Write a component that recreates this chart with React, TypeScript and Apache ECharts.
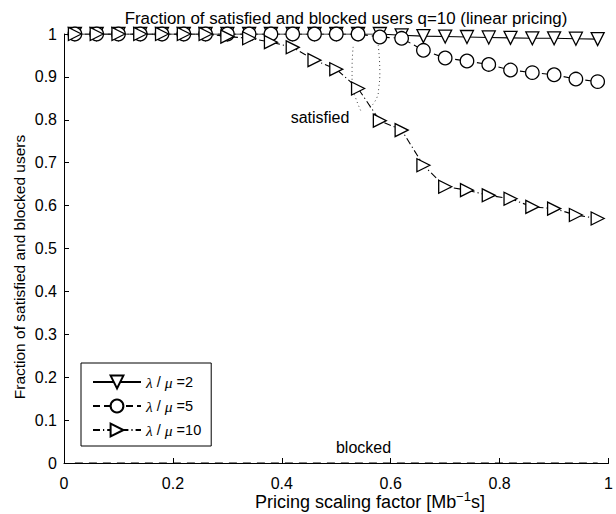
import React, { useEffect, useRef } from "react";
import * as echarts from "echarts";

const xValues = [0.02, 0.06, 0.1, 0.14, 0.18, 0.22, 0.26, 0.3, 0.34, 0.38, 0.42, 0.46, 0.5, 0.54, 0.58, 0.62, 0.66, 0.7, 0.74, 0.78, 0.82, 0.86, 0.9, 0.94, 0.98];
const seriesNames = ["λ/μ=2", "λ/μ=5", "λ/μ=10"];
const legendLabels = ["=2", "=5", "=10"];
const sat2 = [1, 1, 1, 1, 1, 1, 1, 1, 1, 1, 1, 1, 1, 1, 1, 0.997, 0.995, 0.994, 0.993, 0.992, 0.991, 0.99, 0.99, 0.989, 0.988];
const sat5 = [1, 1, 1, 1, 1, 1, 1, 1, 1, 1, 1, 1, 1, 1, 0.993, 0.99, 0.962, 0.944, 0.937, 0.929, 0.916, 0.91, 0.905, 0.895, 0.889];
const sat10 = [1, 1, 1, 1, 1, 1, 1, 0.994, 0.99, 0.981, 0.969, 0.939, 0.918, 0.873, 0.798, 0.776, 0.694, 0.644, 0.636, 0.624, 0.616, 0.597, 0.593, 0.578, 0.57];
const blocked = [0, 0, 0, 0, 0, 0, 0, 0, 0, 0, 0, 0, 0, 0, 0, 0, 0, 0, 0, 0, 0, 0, 0, 0, 0];
const annotA = [[0.531, 0.97], [0.529, 0.921], [0.529, 0.881], [0.535, 0.853], [0.546, 0.818]];
const annotB = [[0.577, 0.974], [0.58, 0.911], [0.578, 0.874], [0.575, 0.853], [0.562, 0.828]];
const textLabels = [
  { text: "satisfied", x: 0.471, y: 0.804 },
  { text: "blocked", x: 0.551, y: 0.035 },
];
const xTicks = { min: 0, max: 1, interval: 0.2 };
const yTicks = { min: 0, max: 1, interval: 0.1 };

const FONT = "'Liberation Sans', Arial, Helvetica, sans-serif";

export default function App() {
  const ref = useRef<HTMLDivElement>(null);
  useEffect(() => {
    if (!ref.current) return;
    const chart = echarts.init(ref.current, null, { renderer: "svg" });
    const zip = (ys: number[]) => xValues.map((x, i) => [x, ys[i]]);
    const markerStyle = { color: "#fff", borderColor: "#000", borderWidth: 1.3 };
    chart.setOption({
      animation: false,
      backgroundColor: "#fff",
      textStyle: { fontFamily: FONT, color: "#000" },
      title: {
        text: "Fraction of satisfied and blocked users q=10 (linear pricing)",
        left: 341,
        top: 5,
        textAlign: "center",
        textStyle: { fontSize: 16.9, fontWeight: "normal", color: "#000", fontFamily: FONT },
      },
      grid: { left: 64, right: 4, top: 34, bottom: 51, containLabel: false },
      xAxis: {
        type: "value",
        min: xTicks.min,
        max: xTicks.max,
        interval: xTicks.interval,
        axisLine: { show: true, onZero: false, lineStyle: { color: "#000", width: 1 } },
        axisTick: { show: true, inside: true, length: 5, lineStyle: { color: "#000" } },
        splitLine: { show: false },
        axisLabel: { color: "#000", fontSize: 16, margin: 12, fontFamily: FONT, formatter: (v: number) => String(+v.toFixed(1)) },
      },
      yAxis: {
        type: "value",
        min: yTicks.min,
        max: yTicks.max,
        interval: yTicks.interval,
        axisLine: { show: true, lineStyle: { color: "#000", width: 1 } },
        axisTick: { show: true, inside: true, length: 5, lineStyle: { color: "#000" } },
        splitLine: { show: false },
        axisLabel: { color: "#000", fontSize: 16, margin: 7, fontFamily: FONT, formatter: (v: number) => String(+v.toFixed(1)) },
      },
      legend: {
        data: seriesNames,
        orient: "vertical",
        left: 81,
        top: 363,
        itemWidth: 48,
        itemHeight: 16,
        itemGap: 8,
        padding: [11, 10, 8, 11],
        borderColor: "#000",
        borderWidth: 1,
        backgroundColor: "#fff",
        selectedMode: false,
        formatter: (name: string) => "{i|λ} / {i|μ} " + legendLabels[seriesNames.indexOf(name)],
        textStyle: {
          fontSize: 14.5,
          color: "#000",
          fontFamily: FONT,
          rich: { i: { fontStyle: "italic", fontFamily: "'Liberation Serif', serif", fontSize: 15.5, color: "#000" } },
        },
      },
      graphic: [
        {
          type: "text",
          x: 19,
          y: 267,
          rotation: Math.PI / 2,
          style: { text: "Fraction of satisfied and blocked users", fontSize: 15.5, fontFamily: FONT, fill: "#000", align: "center", verticalAlign: "middle" },
        },
        {
          type: "text",
          x: 370,
          y: 502,
          style: {
            text: "Pricing scaling factor [Mb{s|−1}s]",
            fontSize: 18,
            fontFamily: FONT,
            fill: "#000",
            align: "center",
            verticalAlign: "middle",
            rich: { s: { fontSize: 13, padding: [0, 0, 12, 0], fontFamily: FONT, fill: "#000" } },
          },
        },
      ],
      series: [
        {
          name: seriesNames[0],
          type: "line",
          data: zip(sat2),
          symbol: "triangle",
          symbolRotate: 180,
          symbolSize: 13,
          lineStyle: { color: "#000", width: 1.1, type: "solid" },
          itemStyle: markerStyle,
        },
        {
          name: seriesNames[1],
          type: "line",
          data: zip(sat5),
          symbol: "circle",
          symbolSize: 13.5,
          lineStyle: { color: "#000", width: 1.1, type: [7, 4] },
          itemStyle: markerStyle,
        },
        {
          name: seriesNames[2],
          type: "line",
          data: zip(sat10),
          symbol: "triangle",
          symbolRotate: -90,
          symbolSize: 13,
          lineStyle: { color: "#000", width: 1.1, type: [7, 3, 1.2, 3] },
          itemStyle: markerStyle,
        },
        {
          name: "blocked",
          type: "line",
          data: zip(blocked),
          symbol: "none",
          lineStyle: { color: "#000", width: 1.1, type: [8, 6] },
        },
        {
          name: "annotA",
          type: "line",
          data: annotA,
          symbol: "none",
          smooth: true,
          lineStyle: { color: "#444", width: 1, type: [1, 3] },
        },
        {
          name: "annotB",
          type: "line",
          data: annotB,
          symbol: "none",
          smooth: true,
          lineStyle: { color: "#444", width: 1, type: [1, 3] },
        },
        {
          name: "labels",
          type: "scatter",
          data: textLabels.map((t) => ({ value: [t.x, t.y], name: t.text })),
          symbolSize: 1,
          itemStyle: { color: "#fff", opacity: 1 },
          emphasis: { disabled: true },
          label: {
            show: true,
            position: [0, 0],
            align: "center",
            verticalAlign: "middle",
            formatter: (p: any) => p.name,
            fontSize: 16,
            color: "#000",
            opacity: 1,
            fontFamily: FONT,
          },
        },
      ],
    });
    return () => chart.dispose();
  }, []);
  return <div ref={ref} style={{ position: "fixed", left: 0, top: 0, width: 616, height: 514 }} />;
}
